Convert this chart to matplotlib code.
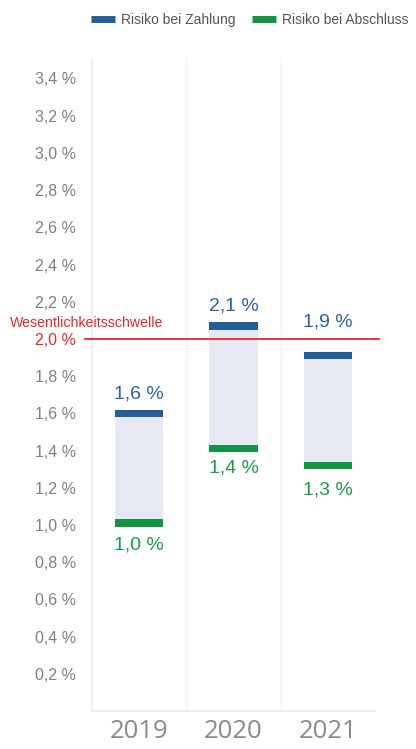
import matplotlib.pyplot as plt
from matplotlib.lines import Line2D
import numpy as np

years = ["2019", "2020", "2021"]
risk_payment = [1.60, 2.07, 1.91]      # Risiko bei Zahlung
risk_contract = [1.01, 1.41, 1.32]     # Risiko bei Abschluss
payment_labels = ["1,6 %", "2,1 %", "1,9 %"]
contract_labels = ["1,0 %", "1,4 %", "1,3 %"]
threshold = 2.0
yticks = [0.2, 0.4, 0.6, 0.8, 1.0, 1.2, 1.4, 1.6, 1.8, 2.0, 2.2, 2.4, 2.6, 2.8, 3.0, 3.2, 3.4]

blue = "#235e96"
blue_txt = "#2b63a0"
green = "#139343"
green_txt = "#1f9a4c"
fill = "#e6e9f2"
red = "#e8272c"
grey = "#808080"
line_grey = "#ebebeb"

plt.rcParams['font.family'] = ['Liberation Sans', 'DejaVu Sans']

fig = plt.figure(figsize=(4.16, 7.49), dpi=100)
ax = fig.add_axes([92/416, 1-711/749, 283/416, 653/749])

x = np.arange(len(years))
w = 0.51
mk = 0.04
lo = np.array(risk_contract)
hi = np.array(risk_payment)

ax.bar(x, hi - lo, bottom=lo, width=w, color=fill, zorder=2)
ax.bar(x, mk, bottom=hi - mk/2, width=w, color=blue, zorder=3)
ax.bar(x, mk, bottom=lo - mk/2, width=w, color=green, zorder=3)

# value labels
up_off = [14, 14, 24]
down_off = [-16, -14, -18]
for i in range(len(years)):
    ax.annotate(payment_labels[i], (x[i], hi[i]), xytext=(0, up_off[i]), textcoords='offset points',
                ha='center', va='center', fontsize=14, color=blue_txt, zorder=5)
    ax.annotate(contract_labels[i], (x[i], lo[i]), xytext=(0, down_off[i]), textcoords='offset points',
                ha='center', va='center', fontsize=14, color=green_txt, zorder=5)

# threshold
ax.plot([-0.025, 1.014], [threshold, threshold], color=red, lw=1.3,
        transform=ax.get_yaxis_transform(), clip_on=False, zorder=4)
ax.text(-0.29, threshold + 0.085, "Wesentlichkeitsschwelle", color=red, fontsize=10.2,
        ha='left', va='center', transform=ax.get_yaxis_transform())

ax.set_xlim(-0.5, 2.5)
ax.set_ylim(0, 3.51)
ax.set_yticks(yticks)
ax.set_yticklabels([f"{v:.1f} %".replace(".", ",") for v in yticks])
for lab, v in zip(ax.get_yticklabels(), yticks):
    lab.set_color(red if abs(v - threshold) < 1e-6 else grey)
ax.tick_params(axis='y', length=0, pad=11.5, labelsize=11.5)
ax.set_xticks(x)
ax.set_xticklabels(years, family='Open Sans', fontsize=18.5, color="#8a8a8a")
ax.tick_params(axis='x', length=0, pad=6)

for s in ['top', 'right']:
    ax.spines[s].set_visible(False)
for s in ['left', 'bottom']:
    ax.spines[s].set_color(line_grey)
    ax.spines[s].set_linewidth(1.2)
for xv in [0.5, 1.5]:
    ax.axvline(xv, color="#f2f2f2", lw=1, zorder=1)

handles = [Line2D([], [], color=blue, lw=5, solid_capstyle='butt'),
           Line2D([], [], color=green, lw=5, solid_capstyle='butt')]
fig.legend(handles, ["Risiko bei Zahlung", "Risiko bei Abschluss"], ncol=2, frameon=False,
           loc='center left', bbox_to_anchor=(91/416, 1-20/749), fontsize=10,
           handlelength=1.7, handletextpad=0.45, columnspacing=1.2,
           borderpad=0, borderaxespad=0, labelcolor="#555555")

fig.savefig("out.png", dpi=100)
